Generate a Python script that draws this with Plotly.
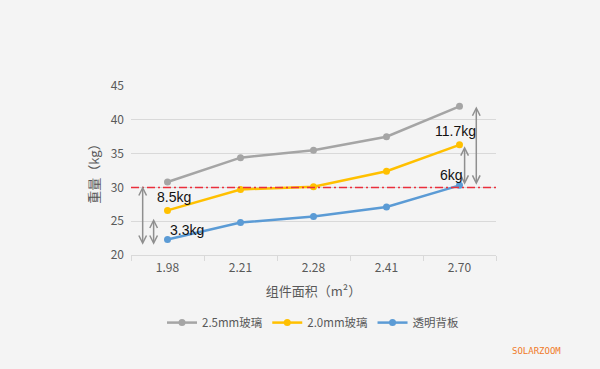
import plotly.graph_objects as go

categories = ["1.98", "2.21", "2.28", "2.41", "2.70"]
glass_25 = [30.8, 34.4, 35.5, 37.5, 42.0]
glass_20 = [26.6, 29.7, 30.1, 32.4, 36.3]
backsheet = [22.3, 24.8, 25.7, 27.1, 30.3]
series_names = ["2.5mm玻璃", "2.0mm玻璃", "透明背板"]
colors = ["#a5a5a5", "#ffc000", "#5b9bd5"]
ref_line = 30
y_ticks = [20, 25, 30, 35, 40, 45]

fig = go.Figure()
for name, vals, c in zip(series_names, [glass_25, glass_20, backsheet], colors):
    fig.add_trace(go.Scatter(x=categories, y=vals, name=name, mode="lines+markers",
                             line=dict(color=c, width=2.5),
                             marker=dict(color=c, size=7)))

fig.add_shape(type="line", xref="paper", yref="y", x0=0, x1=1, y0=ref_line, y1=ref_line,
              line=dict(color="#ea2f3c", width=1.5, dash="8px,3px,2px,3px"), layer="above")

arrow_col = "#8f8f8f"
arrows = [(-0.34, 30.4, 21.5), (-0.19, 25.6, 21.5), (4.07, 36.3, 30.4), (4.23, 42.2, 30.4)]
for x, y0, y1 in arrows:
    fig.add_annotation(x=x, y=y1, ax=x, ay=y0, xref="x", yref="y", axref="x", ayref="y",
                       text="", showarrow=True, arrowhead=5, arrowside="end+start",
                       arrowsize=1.0, arrowwidth=1.5, arrowcolor=arrow_col)

labels = [(-0.165, 28.6, "8.5kg"), (0.0, 23.7, "3.3kg"), (3.64, 38.4, "11.7kg"), (3.7, 31.9, "6kg")]
for x, y, t in labels:
    fig.add_annotation(x=x, y=y, xref="x", yref="y", text=t, showarrow=False,
                       xanchor="left", font=dict(size=14, color="#111111",
                                                 family="Liberation Sans, Arial, sans-serif"))

fig.add_annotation(x=1.112, y=-0.57, xref="paper", yref="paper", text="SOLARZOOM", showarrow=False,
                   xanchor="center", yanchor="middle",
                   font=dict(size=9, color="#f07b2a", family="DejaVu Sans Mono"))

fig.update_layout(
    width=600, height=369,
    margin=dict(l=131, r=104, t=86, b=114),
    paper_bgcolor="#f4f4f4", plot_bgcolor="#f4f4f4",
    font=dict(family="Noto Sans CJK SC, Roboto, sans-serif", color="#595959", size=12),
    showlegend=True,
    legend=dict(orientation="h", x=0.5, xanchor="center", y=-0.40, yanchor="middle",
                font=dict(size=11.5, color="#595959"), bgcolor="rgba(0,0,0,0)",
                itemwidth=30, tracegroupgap=0),
    xaxis=dict(type="category", range=[-0.5, 4.5], showgrid=False, showline=True,
               linecolor="#d9d9d9", ticks="outside", tickson="boundaries", ticklen=5,
               tickcolor="#d9d9d9", automargin=False, ticklabelstandoff=2,
               tickfont=dict(size=12),
               title=dict(text="组件面积（m²）", font=dict(size=13), standoff=12)),
    yaxis=dict(range=[20, 45], tickvals=y_ticks, showgrid=True, gridcolor="#d9d9d9",
               zeroline=False, showline=False, automargin=False, ticklabelstandoff=6,
               tickfont=dict(size=12),
               title=dict(text="重量（kg）", font=dict(size=13), standoff=8)),
)
fig.write_html("out.html", config={"displayModeBar": False},
               post_script="document.body.style.margin='0';document.body.style.background='#f4f4f4';")
